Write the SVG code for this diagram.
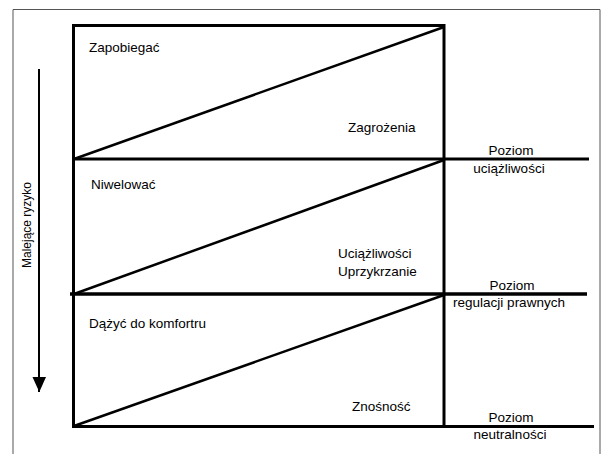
<svg xmlns="http://www.w3.org/2000/svg" width="604" height="454" viewBox="0 0 604 454">
  <defs>
    <style>
      .t { font-family: "Liberation Sans", Arial, sans-serif; font-size: 13.5px; fill: #000; }
      .c { text-anchor: middle; }
      .thick { stroke: #000; stroke-width: 3; fill: none; }
      .diag { stroke: #000; stroke-width: 2.5; fill: none; }
    </style>
    <marker id="ah" markerWidth="14" markerHeight="16" refX="7" refY="15" orient="auto" markerUnits="userSpaceOnUse" viewBox="0 0 14 16">
      <path d="M0,0 L14,0 L7,15 Z" fill="#000"/>
    </marker>
  </defs>
  <rect width="604" height="454" fill="#fff"/>
  <path d="M13,454 V9.5 H600 V454" fill="none" stroke="#555" stroke-width="1"/>

  <g id="connectors">
    <line x1="39" y1="69" x2="39" y2="392" stroke="#000" stroke-width="2"/>
    <path d="M32.5,377 L46,377 L39.3,392 Z" fill="#000"/>
  </g>

  <g id="frame-box">
    <rect x="73.5" y="25.5" width="370.5" height="401" class="thick"/>
    <line x1="73" y1="159" x2="589" y2="159" class="thick"/>
    <line x1="70" y1="294" x2="587" y2="294" stroke="#000" stroke-width="3.5"/>
    <line x1="444" y1="426.5" x2="594" y2="426.5" class="thick"/>
  </g>

  <g id="zone-zagrozenia">
    <line x1="74" y1="159" x2="444" y2="27" class="diag"/>
    <text class="t" x="89" y="52">Zapobiegać</text>
    <text class="t" x="348" y="132">Zagrożenia</text>
  </g>

  <g id="zone-uciazliwosci">
    <line x1="74" y1="294" x2="444" y2="160" class="diag"/>
    <text class="t" x="91" y="189">Niwelować</text>
    <text class="t" x="338" y="258">Uciążliwości</text>
    <text class="t" x="338" y="276">Uprzykrzanie</text>
  </g>

  <g id="zone-znosnosc">
    <line x1="74" y1="426" x2="444" y2="295" class="diag"/>
    <text class="t" x="89" y="328">Dążyć do komfortru</text>
    <text class="t" x="352" y="411">Znośność</text>
  </g>

  <g id="level-uciazliwosci">
    <text class="t c" x="511" y="155">Poziom</text>
    <text class="t c" x="509" y="173">uciążliwości</text>
  </g>
  <g id="level-regulacji">
    <text class="t c" x="512" y="290">Poziom</text>
    <text class="t c" x="509" y="307">regulacji prawnych</text>
  </g>
  <g id="level-neutralnosci">
    <text class="t c" x="511" y="422">Poziom</text>
    <text class="t c" x="510" y="439">neutralności</text>
  </g>

  <g id="axis-label">
    <text class="t c" transform="translate(31,225) rotate(-90)" x="0" y="0" style="font-size:12px">Malejące ryzyko</text>
  </g>
</svg>
